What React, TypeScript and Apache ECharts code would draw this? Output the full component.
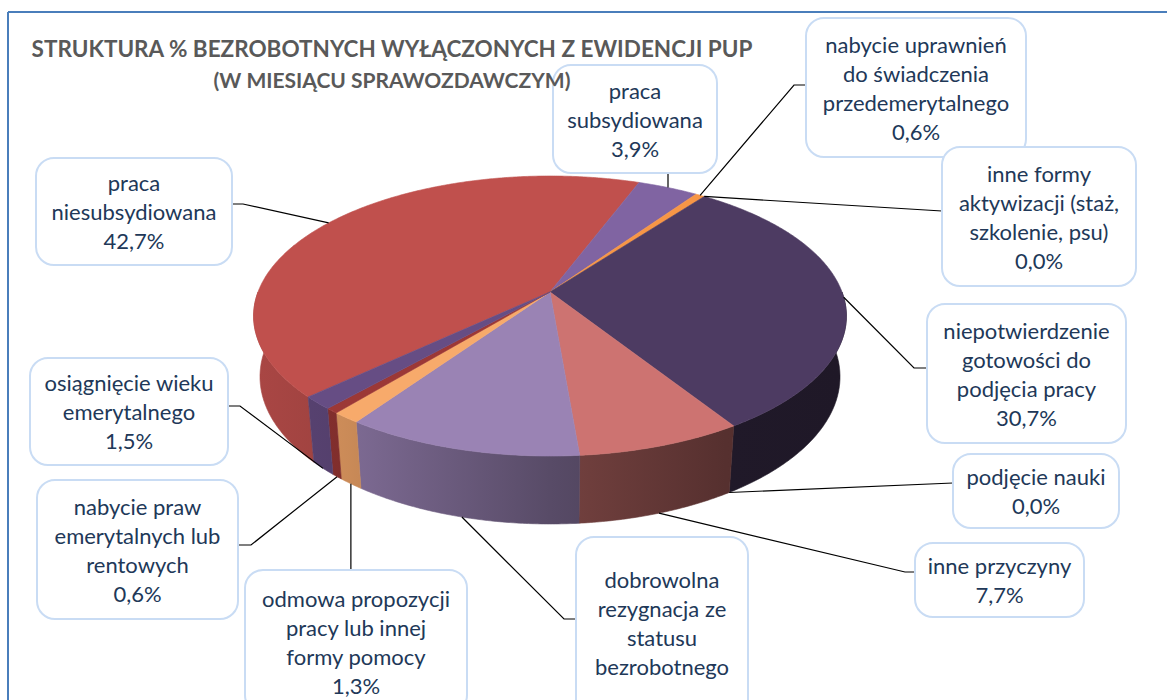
import React, { useEffect, useRef } from "react";
import * as echarts from "echarts";

// ---------- data ----------
const categories = [
  "praca\nniesubsydiowana",
  "praca\nsubsydiowana",
  "nabycie uprawnień\ndo świadczenia\nprzedemerytalnego",
  "inne formy\naktywizacji (staż,\nszkolenie, psu)",
  "niepotwierdzenie\ngotowości do\npodjęcia pracy",
  "podjęcie nauki",
  "inne przyczyny",
  "dobrowolna\nrezygnacja ze\nstatusu\nbezrobotnego",
  "odmowa propozycji\npracy lub innej\nformy pomocy",
  "nabycie praw\nemerytalnych lub\nrentowych",
  "osiągnięcie wieku\nemerytalnego",
];
const values = [42.7, 3.9, 0.6, 0.0, 30.7, 0.0, 7.7, 11.0, 1.3, 0.6, 1.5];
// the percentage line of "dobrowolna rezygnacja" falls below the visible area in the original
const valueShown = [true, true, true, true, true, true, true, false, true, true, true];
const titleLines = [
  "STRUKTURA % BEZROBOTNYCH WYŁĄCZONYCH Z EWIDENCJI PUP",
  "(W MIESIĄCU SPRAWOZDAWCZYM)",
];

// ---------- styles ----------
const sliceColors = [
  "#C0504D", "#8064A2", "#F79646", "#4BACC6", "#4D3B62", "#2C4D75",
  "#CD7371", "#9A83B4", "#F7AA6B", "#9C3836", "#664D84",
];

// ---------- layout ----------
// box: [x, y, w, h]; path: points from the box to the elbow; vertical: line runs straight from box edge
const labelLayout: any[] = [
  { box: [36, 158, 196, 107], path: [[232, 204], [243, 204]] },
  { box: [553, 65, 164, 108], vertical: "bottom" },
  { box: [806, 18, 220, 139], path: [[806, 85], [794, 85]] },
  { box: [942, 147, 194, 139], path: [[942, 211]] },
  { box: [927, 304, 199, 139], path: [[927, 368], [914, 368]] },
  { box: [953, 454, 166, 74], path: [[953, 483]] },
  { box: [915, 543, 169, 74], path: [[915, 572], [905, 572]] },
  { box: [576, 537, 172, 190], path: [[576, 619], [564, 619]] },
  { box: [245, 570, 222, 143], vertical: "top" },
  { box: [37, 480, 201, 139], path: [[238, 545], [251, 545]] },
  { box: [30, 358, 198, 107], path: [[228, 406], [240, 406]] },
];

const PIE = { cx: 550, cy: 292, s: 292, sinA: 0.4654, cosA: 0.885, D: 5.16, h: 0.237, start: 137 };

function project(deg: number, top: boolean): number[] {
  const r = (deg * Math.PI) / 180;
  const X = Math.cos(r);
  const Z = Math.sin(r);
  const Y = top ? 0 : -PIE.h;
  const d = PIE.D - (Z * PIE.cosA + Y * PIE.sinA);
  const t = PIE.D / d;
  const v = Y * PIE.cosA - Z * PIE.sinA;
  return [PIE.cx + PIE.s * X * t, PIE.cy - PIE.s * v * t];
}

function arc(a: number, b: number, top: boolean): number[][] {
  const pts: number[][] = [];
  const n = Math.max(2, Math.ceil((b - a) / 0.5));
  for (let k = 0; k <= n; k++) pts.push(project(a + ((b - a) * k) / n, top));
  return pts;
}

function shade(hex: string, f: number): string {
  const n = parseInt(hex.slice(1), 16);
  const r = Math.round(((n >> 16) & 255) * f);
  const g = Math.round(((n >> 8) & 255) * f);
  const b = Math.round((n & 255) * f);
  return `rgb(${r},${g},${b})`;
}

const fmt = (v: number) => v.toFixed(1).replace(".", ",") + "%";

export default function App() {
  const ref = useRef<HTMLDivElement>(null);
  useEffect(() => {
    if (!ref.current) return;
    const chart = echarts.init(ref.current, undefined, { renderer: "svg" });
    const total = values.reduce((a, b) => a + b, 0);
    const starts: number[] = [];
    let acc = PIE.start;
    values.forEach((v) => {
      starts.push(acc);
      acc += (v / total) * 360;
    });
    const leftX = PIE.cx - PIE.s;
    const rightX = PIE.cx + PIE.s;

    const renderItem = (params: any, api: any) => {
      const i = params.dataIndex;
      const val = api.value(0);
      const a = starts[i];
      const b = a + (val / total) * 360;
      const color = sliceColors[i];
      const children: any[] = [];
      if (b - a > 0) {
        const topPts = [[PIE.cx, PIE.cy], ...arc(a, b, true)];
        children.push({
          type: "polygon",
          z2: 20,
          shape: { points: topPts },
          style: { fill: color, stroke: color, lineWidth: 0.6 },
        });
        for (let k = -1; k <= 1; k++) {
          const lo = Math.max(a, 360 * k);
          const hi = Math.min(b, 360 * k + 180);
          if (hi > lo) {
            const pts = [...arc(lo, hi, true), ...arc(lo, hi, false).reverse()];
            const grad = {
              type: "linear",
              x: leftX,
              y: 0,
              x2: rightX,
              y2: 0,
              global: true,
              colorStops: [
                { offset: 0, color: shade(color, 0.88) },
                { offset: 0.15, color: shade(color, 0.82) },
                { offset: 0.5, color: shade(color, 0.57) },
                { offset: 0.8, color: shade(color, 0.42) },
                { offset: 1, color: shade(color, 0.4) },
              ],
            };
            children.push({
              type: "polygon",
              z2: 10,
              shape: { points: pts },
              style: { fill: grad, stroke: grad, lineWidth: 0.6 },
            });
          }
        }
      }
      // label anchor
      const mid = (a + b) / 2;
      const sinM = Math.sin((mid * Math.PI) / 180);
      const anchor = project(mid, !(sinM > 0.25));
      const lay = labelLayout[i];
      const [bx, by, bw, bh] = lay.box;
      let line: number[][];
      if (lay.vertical === "bottom") line = [[anchor[0], by + bh], anchor];
      else if (lay.vertical === "top") line = [[anchor[0], by], anchor];
      else line = [...lay.path, anchor];
      children.push({
        type: "polyline",
        z2: 30,
        shape: { points: line },
        style: { stroke: "#000", lineWidth: 1.2, fill: null },
      });
      children.push({
        type: "rect",
        z2: 40,
        shape: { x: bx, y: by, width: bw, height: bh, r: 18 },
        style: { fill: "#fff", stroke: "#C9DCF4", lineWidth: 2 },
      });
      const txt = categories[i] + (valueShown[i] ? "\n" + fmt(val) : "");
      const nLines = txt.split("\n").length;
      const cyText = valueShown[i] ? by + bh / 2 : by + 14 + (nLines * 29) / 2 + 14;
      children.push({
        type: "text",
        z2: 50,
        style: {
          text: txt,
          x: bx + bw / 2,
          y: cyText,
          align: "center",
          verticalAlign: "middle",
          fontFamily: "Lato",
          fontSize: 22,
          lineHeight: 29,
          fill: "#213858",
        },
      });
      return { type: "group", children };
    };

    chart.setOption({
      animation: false,
      backgroundColor: "#fff",
      graphic: [
        {
          type: "line",
          z: 100,
          shape: { x1: 8, y1: 12, x2: 1167, y2: 12 },
          style: { stroke: "#4A7EBB", lineWidth: 2 },
        },
        {
          type: "line",
          z: 100,
          shape: { x1: 8, y1: 12, x2: 8, y2: 700 },
          style: { stroke: "#4A7EBB", lineWidth: 2 },
        },
        {
          type: "text",
          z: 100,
          x: 392,
          y: 48,
          style: {
            text: titleLines[0],
            align: "center",
            verticalAlign: "middle",
            fontFamily: "Lato",
            fontWeight: "bold",
            fontSize: 22.5,
            fill: "#595959",
          },
        },
        {
          type: "text",
          z: 100,
          x: 392,
          y: 79,
          style: {
            text: titleLines[1],
            align: "center",
            verticalAlign: "middle",
            fontFamily: "Lato",
            fontWeight: "bold",
            fontSize: 21,
            fill: "#595959",
          },
        },
      ],
      series: [
        {
          type: "custom",
          coordinateSystem: "none",
          renderItem,
          data: values.map((v) => [v]),
        },
      ],
    });
    return () => chart.dispose();
  }, []);
  return (
    <div
      ref={ref}
      style={{ position: "fixed", left: 0, top: 0, width: 1167, height: 700 }}
    />
  );
}
